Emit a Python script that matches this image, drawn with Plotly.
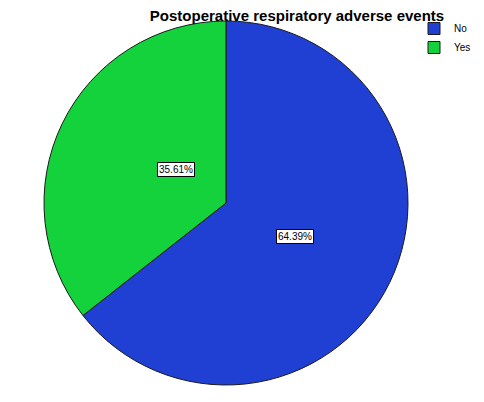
import math
import plotly.graph_objects as go

labels = ["No", "Yes"]
percents = [64.39, 35.61]
colors = ["#1f40d2", "#14d23c"]

# page has an 8px body margin: keep the figure inside the 484x402 window
PAGE_W, PAGE_H, OFF = 484, 402, 8
W, H = PAGE_W - 2 * OFF, PAGE_H - 2 * OFF


def fx(px):
    return (px - OFF) / W


def fy(py):
    return 1 - (py - OFF) / H


# pie area in page pixels: centre and radius
cx, cy, r = 226, 203, 182

fig = go.Figure(go.Pie(
    labels=labels, values=percents, sort=False, direction="clockwise", rotation=0,
    marker=dict(colors=colors, line=dict(color="#1a1a1a", width=1)),
    textinfo="none", hoverinfo="label+percent",
    domain=dict(x=[fx(cx - r), fx(cx + r)], y=[fy(cy + r), fy(cy - r)]),
))

# boxed percentage labels at each slice's middle angle
start = 0
total = sum(percents)
for lab, v in zip(labels, percents):
    mid = (start + v / 2) / total * 2 * math.pi
    start += v
    px = cx + 0.42 * r * math.sin(mid)
    py = cy - 0.42 * r * math.cos(mid)
    fig.add_annotation(
        x=fx(px), y=fy(py), xref="paper", yref="paper",
        text="%.2f%%" % v, showarrow=False,
        font=dict(family="Liberation Sans, Arial", size=10, color="black"),
        bgcolor="white", bordercolor="black", borderwidth=1, borderpad=1,
    )

fig.update_layout(
    width=W, height=H,
    margin=dict(l=0, r=0, t=0, b=0, autoexpand=False),
    paper_bgcolor="white",
    title=dict(text="<b>Postoperative respiratory adverse events</b>",
               x=fx(297), xanchor="center", y=fy(10), yanchor="top",
               font=dict(family="Liberation Sans, Arial", size=15, color="black")),
    legend=dict(x=fx(414), y=fy(14), xanchor="left", yanchor="top",
                font=dict(family="Liberation Sans, Arial", size=10, color="black"),
                itemwidth=30, tracegroupgap=0, bgcolor="rgba(0,0,0,0)"),
)

fig.write_html("out.html")
